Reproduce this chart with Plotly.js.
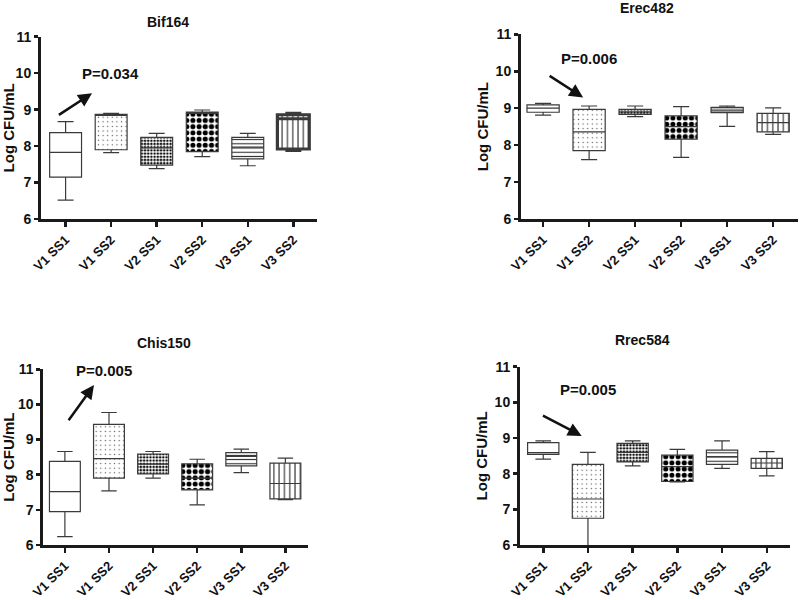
<!DOCTYPE html>
<html>
<head>
<meta charset="utf-8">
<script src="https://cdn.plot.ly/plotly-3.0.1.min.js"></script>
<style>html,body{margin:0;padding:0;background:#fff}#chart{width:800px;height:600px}</style>
</head>
<body>
<div id="chart"></div>
<script>
// ---- data ----
const categories = ['V1 SS1', 'V1 SS2', 'V2 SS1', 'V2 SS2', 'V3 SS1', 'V3 SS2'];
const panelNames = ['Bif164', 'Erec482', 'Chis150', 'Rrec584'];
const yTicks = [6, 7, 8, 9, 10, 11];

const bifMin    = [6.52, 7.82, 7.38, 7.71, 7.46, 7.88];
const bifQ1     = [7.15, 7.90, 7.48, 7.85, 7.65, 7.92];
const bifMedian = [7.83, 8.85, 7.95, 8.90, 7.97, 8.75];
const bifQ3     = [8.37, 8.87, 8.24, 8.93, 8.24, 8.86];
const bifMax    = [8.67, 8.90, 8.35, 8.99, 8.35, 8.90];

const erecMin    = [8.81, 7.61, 8.77, 7.67, 8.51, 8.29];
const erecQ1     = [8.89, 7.85, 8.83, 8.16, 8.88, 8.36];
const erecMedian = [9.00, 8.36, 8.90, 8.50, 8.95, 8.61];
const erecQ3     = [9.09, 8.97, 8.97, 8.79, 9.02, 8.86];
const erecMax    = [9.13, 9.06, 9.06, 9.04, 9.06, 9.01];

const chisMin    = [6.24, 7.54, 7.90, 7.14, 8.06, 7.29];
const chisQ1     = [6.95, 7.90, 8.02, 7.57, 8.25, 7.31];
const chisMedian = [7.52, 8.46, 8.30, 7.90, 8.52, 7.75];
const chisQ3     = [8.38, 9.43, 8.59, 8.31, 8.63, 8.33];
const chisMax    = [8.66, 9.77, 8.66, 8.44, 8.73, 8.47];

const rrecMin    = [8.41, 5.90, 8.22, 7.77, 8.15, 7.94];
const rrecQ1     = [8.54, 6.75, 8.33, 7.78, 8.26, 8.15];
const rrecMedian = [8.59, 7.29, 8.60, 8.20, 8.48, 8.30];
const rrecQ3     = [8.87, 8.26, 8.85, 8.52, 8.66, 8.43];
const rrecMax    = [8.92, 8.60, 8.92, 8.68, 8.92, 8.62];

const pLabels = ['P=0.034', 'P=0.006', 'P=0.005', 'P=0.005'];
// arrow tail / head and label positions in data units
const arrowTail = [[-0.18, 8.83], [0.11, 9.90], [0.06, 9.51], [-0.04, 9.65]];
const arrowHead = [[0.58, 9.45], [0.87, 9.29], [0.66, 10.55], [0.86, 9.06]];
const pPos      = [[0.99, 10.0], [0.99, 10.35], [0.88, 10.96], [0.99, 10.35]];

// ---- styling ----
const panels = [
  {min: bifMin,  q1: bifQ1,  med: bifMedian,  q3: bifQ3,  max: bifMax},
  {min: erecMin, q1: erecQ1, med: erecMedian, q3: erecQ3, max: erecMax},
  {min: chisMin, q1: chisQ1, med: chisMedian, q3: chisQ3, max: chisMax},
  {min: rrecMin, q1: rrecQ1, med: rrecMedian, q3: rrecQ3, max: rrecMax}
];
const patterns = [
  {shape: '', size: 8, solidity: 0.2, fg: '#111'},
  {shape: '.', size: 4.6, solidity: 0.07, fg: '#555'},
  {shape: '.', size: 3.2, solidity: 0.5, fg: '#111'},
  {shape: '.', size: 6.2, solidity: 0.52, fg: '#000'},
  {shape: '-', size: 4.2, solidity: 0.25, fg: '#222'},
  {shape: '|', size: 5.3, solidity: 0.2, fg: '#222'}
];
const FONT = 'Liberation Sans, Arial, Helvetica, sans-serif';
const axSuffix = ['', '2', '3', '4'];
const xDomains = [[0.05125, 0.39625], [0.65125, 0.9975], [0.0541, 0.3854], [0.65, 0.9875]];
const yDomains = [[0.635, 0.9388], [0.635, 0.9428], [0.0917, 0.3845], [0.0917, 0.3888]];
const xRanges = [[-0.54, 5.52], [-0.48, 5.54], [-0.49, 5.52], [-0.52, 5.52]];
const titlePos = [[0.21, 0.963], [0.809, 0.986], [0.205, 0.428], [0.803, 0.433]];

const data = [];
const annotations = [];
const layout = {
  width: 800, height: 600,
  margin: {l: 0, r: 0, t: 0, b: 0},
  paper_bgcolor: '#fff', plot_bgcolor: '#fff',
  showlegend: false,
  barmode: 'overlay',
  boxmode: 'overlay',
  font: {family: FONT, color: '#111'},
  annotations: annotations
};

panels.forEach((p, pi) => {
  const xa = 'x' + axSuffix[pi], ya = 'y' + axSuffix[pi];
  categories.forEach((c, ci) => {
    const pat = patterns[ci];
    data.push({
      type: 'bar', xaxis: xa, yaxis: ya,
      x: [c], base: [p.q1[ci]], y: [p.q3[ci] - p.q1[ci]],
      width: 0.7,
      marker: {
        color: '#fff',
        line: {width: 0},
        pattern: {shape: pat.shape, size: pat.size, solidity: pat.solidity,
                  fgcolor: pat.fg, bgcolor: '#fff', fillmode: 'replace'}
      },
      hoverinfo: 'skip'
    });
    data.push({
      type: 'box', xaxis: xa, yaxis: ya,
      x: [c], q1: [p.q1[ci]], median: [p.med[ci]], q3: [p.q3[ci]],
      lowerfence: [p.min[ci]], upperfence: [p.max[ci]],
      width: 0.7, whiskerwidth: 0.5,
      boxpoints: false,
      fillcolor: 'rgba(0,0,0,0)',
      line: {color: '#3a3a3a', width: (pi === 0 && ci === 5) ? 3.2 : 1.2}
    });
  });

  layout['xaxis' + axSuffix[pi]] = {
    domain: xDomains[pi], anchor: ya, range: xRanges[pi],
    type: 'category', categoryorder: 'array', categoryarray: categories,
    showline: true, linecolor: '#1a1a1a', linewidth: 3,
    ticks: 'outside', ticklen: 5, tickwidth: 2.5, tickcolor: '#1a1a1a',
    tickangle: -45, showgrid: false, zeroline: false, fixedrange: true,
    tickfont: {family: FONT, size: 13, color: '#111', weight: 'bold'}
  };
  layout['yaxis' + axSuffix[pi]] = {
    domain: yDomains[pi], anchor: xa, range: [6, 11],
    tickvals: yTicks, ticktext: yTicks.map(String),
    showline: true, linecolor: '#1a1a1a', linewidth: 3,
    ticks: 'outside', ticklen: 4, tickwidth: 2.5, tickcolor: '#1a1a1a',
    showgrid: false, zeroline: false, fixedrange: true,
    tickfont: {family: FONT, size: 14, color: '#111', weight: 'bold'},
    title: {text: 'Log CFU/mL', font: {family: FONT, size: 15, color: '#111', weight: 'bold'}, standoff: 4}
  };

  annotations.push({
    xref: 'paper', yref: 'paper', x: titlePos[pi][0], y: titlePos[pi][1],
    text: panelNames[pi], showarrow: false, xanchor: 'center', yanchor: 'middle',
    font: {family: FONT, size: 14, color: '#111', weight: 'bold'}
  });
  annotations.push({
    xref: xa, yref: ya, x: pPos[pi][0], y: pPos[pi][1],
    text: pLabels[pi], showarrow: false, xanchor: 'center', yanchor: 'middle',
    font: {family: FONT, size: 15, color: '#111', weight: 'bold'}
  });
  annotations.push({
    xref: xa, yref: ya, axref: xa, ayref: ya,
    x: arrowHead[pi][0], y: arrowHead[pi][1],
    ax: arrowTail[pi][0], ay: arrowTail[pi][1],
    text: '', showarrow: true, arrowhead: 2, arrowsize: 1.1, arrowwidth: 2.5,
    arrowcolor: '#111', standoff: 0, startstandoff: 0
  });
});

Plotly.newPlot('chart', data, layout, {displayModeBar: false, staticPlot: true});
</script>
</body>
</html>
